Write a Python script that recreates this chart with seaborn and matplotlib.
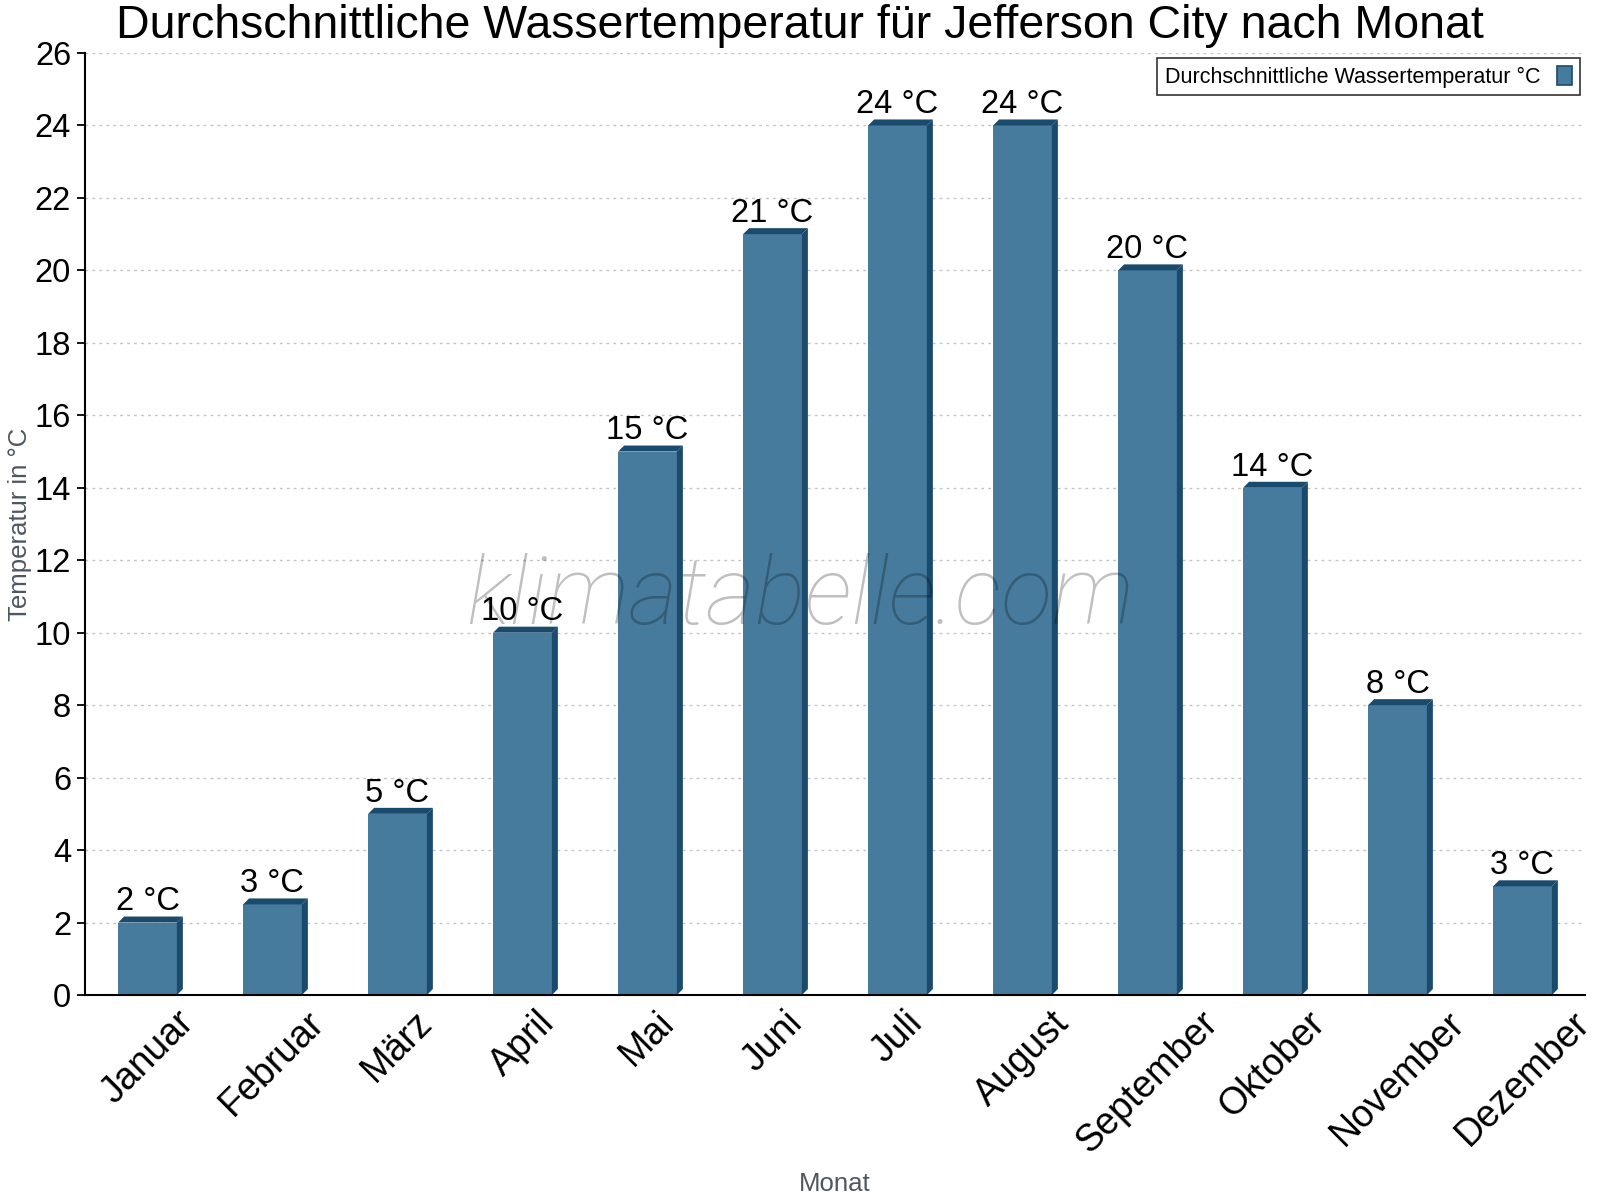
import numpy as np
import pandas as pd
import matplotlib
matplotlib.use("Agg")
import matplotlib.pyplot as plt
from matplotlib.patches import Polygon, Patch
import seaborn as sns

months = ["Januar", "Februar", "März", "April", "Mai", "Juni", "Juli",
          "August", "September", "Oktober", "November", "Dezember"]
water_temp = [2, 2.5, 5, 10, 15, 21, 24, 24, 20, 14, 8, 3]
value_labels = ["2 °C", "3 °C", "5 °C", "10 °C", "15 °C", "21 °C", "24 °C",
                "24 °C", "20 °C", "14 °C", "8 °C", "3 °C"]
y_ticks = list(range(0, 27, 2))

title = "Durchschnittliche Wassertemperatur für Jefferson City nach Monat"
series_name = "Durchschnittliche Wassertemperatur °C"
x_title = "Monat"
y_title = "Temperatur in °C"
watermark = "klimatabelle.com"

FRONT = "#467b9d"
DEPTH = "#1a4a6c"
GRAY = "#4d5761"

sns.set_theme(style="white")
plt.rcParams["font.family"] = ["Liberation Sans", "DejaVu Sans"]

df = pd.DataFrame({"Monat": months, "Temp": water_temp})

W, H = 1600, 1200
fig = plt.figure(figsize=(16, 12), dpi=100)
L, R, B, T = 85, 1585, 995, 53
ax = fig.add_axes([L / W, 1 - B / H, (R - L) / W, (B - T) / H])

sns.barplot(data=df, x="Monat", y="Temp", color=FRONT, saturation=1,
            width=0.47, ax=ax, zorder=3, edgecolor="none", linewidth=0)

ax.set_xlim(-0.5, len(months) - 0.5)
ax.set_ylim(0, 26)
ax.set_yticks(y_ticks)

# 3D depth (6 px)
px_x = (len(months)) / (R - L)
px_y = 26 / (B - T)
d = 6
dx, dy = d * px_x, d * px_y
for p in list(ax.patches):
    x0 = p.get_x()
    x1 = x0 + p.get_width()
    h = p.get_height()
    top = Polygon([(x0, h), (x1, h), (x1 + dx, h + dy), (x0 + dx, h + dy)],
                  closed=True, facecolor=DEPTH, edgecolor="none", zorder=3)
    side = Polygon([(x1, 0), (x1 + dx, dy), (x1 + dx, h + dy), (x1, h)],
                   closed=True, facecolor=DEPTH, edgecolor="none", zorder=3)
    ax.add_patch(top)
    ax.add_patch(side)

# value labels
for i, (v, lab) in enumerate(zip(water_temp, value_labels)):
    ax.annotate(lab, (i, v), xytext=(0, 8.8), textcoords="offset points",
                ha="center", va="baseline", fontsize=23.5, color="black", zorder=5)

# grid
ax.yaxis.grid(True, color="#c4c4c4", linestyle=(0, (2, 3)), linewidth=1.0, zorder=0)
ax.xaxis.grid(False)
ax.set_axisbelow(True)

# spines
for s in ["top", "right"]:
    ax.spines[s].set_visible(False)
for s in ["left", "bottom"]:
    ax.spines[s].set_color("black")
    ax.spines[s].set_linewidth(1.5)
    ax.spines[s].set_zorder(4)

# ticks
ax.set_xticks(range(len(months)))
ax.set_xticklabels(months, rotation=45, ha="center", fontsize=27, color="black")
ax.set_xticks(np.arange(-0.5, len(months), 1), minor=True)
ax.tick_params(axis="x", which="major", length=0, pad=7, labelcolor="black")
ax.tick_params(axis="x", which="minor", direction="inout", length=9, width=1.3, color="black")
ax.tick_params(axis="y", direction="out", length=6, width=1.3, color="black",
               labelsize=23.5, pad=4, left=True, labelcolor="black")

ax.set_xlabel(x_title, fontsize=18.5, color=GRAY)
ax.set_ylabel(y_title, fontsize=18.5, color=GRAY)
ax.xaxis.set_label_coords(0.5, (B - 1172) / (B - T))
ax.xaxis.label.set_va("top")
ax.yaxis.label.set_va("center")
ax.yaxis.set_label_coords((20 - L) / (R - L), 0.5)

# title
fig.text(0.5, 1 - 38 / H, title, ha="center", va="baseline", fontsize=33.5, color="black")

# legend
handle = Patch(facecolor=FRONT, edgecolor=DEPTH, linewidth=1.2)
leg = ax.legend([handle], [series_name], loc="upper right",
                bbox_to_anchor=((1580 - L) / (R - L), 1 - (58 - T) / (B - T)),
                markerfirst=False, fontsize=15.5, frameon=True, fancybox=False,
                handlelength=0.7, handleheight=1.0, handletextpad=0.8,
                borderpad=0.35, borderaxespad=0)
leg.get_frame().set_edgecolor("black")
leg.get_frame().set_linewidth(1.2)
leg.set_zorder(6)
for t in leg.get_texts():
    t.set_color("black")

# watermark
fig.text(0.5, 1 - 598 / H, watermark,
         ha="center", va="center", fontsize=68, color="black", alpha=0.25,
         family=["Roboto", "Liberation Sans", "DejaVu Sans"], style="italic",
         weight="light", zorder=6)

fig.savefig("out.png", dpi=100)
